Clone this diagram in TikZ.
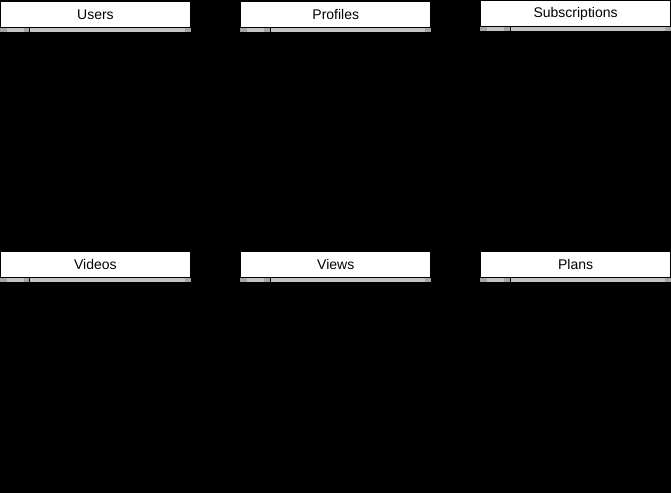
\documentclass[tikz,border=0pt]{standalone}
\usepackage{fontspec}
\setmainfont{Liberation Sans}
\usetikzlibrary{positioning, calc}
\definecolor{stripgray}{HTML}{C4C4C4}
\definecolor{stripdark}{HTML}{A4A4A4}

\begin{document}
\begin{tikzpicture}[x=1pt, y=-1pt,
    tablehead/.style={draw=black, fill=white, line width=1pt, inner sep=0pt,
      minimum width=190pt, minimum height=26pt, anchor=north west,
      font=\fontsize{14}{16}\selectfont}]
      \fill[black] (0, 0) rectangle (671, 493);

      % table headers
      \node[tablehead] (users) at (0, 1) {Users};
      \node[tablehead] (profiles) at (240.5, 1) {Profiles};
      \node[tablehead] (subscriptions) at (480.5, 0) {Subscriptions};
      \node[tablehead] (videos) at (0, 251) {Videos};
      \node[tablehead] (views) at (240.5, 251) {Views};
      \node[tablehead] (plans) at (480.5, 251) {Plans};

      % key column strip under each header
      \foreach \t in {users, profiles, subscriptions, videos, views, plans} {
        \fill[stripgray] (\t.south west) rectangle ([yshift=-4pt]\t.south east);
        \fill[stripdark] (\t.south west) rectangle ++(7, 4);
        \fill[stripdark] ([xshift=24pt]\t.south west) rectangle ++(6, 4);
        \fill[stripdark] ([xshift=-6pt]\t.south east) rectangle ++(6, 4);
        \draw[black, line width=1pt] ([xshift=30pt]\t.south west) -- ++(0, 4);
      }
    \end{tikzpicture}
\end{document}
